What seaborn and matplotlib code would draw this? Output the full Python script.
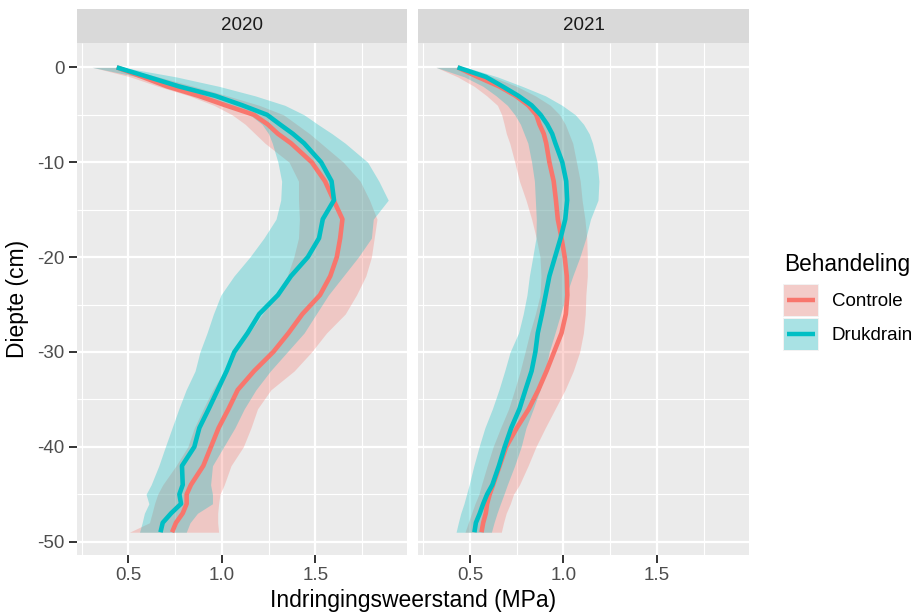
import numpy as np
import pandas as pd
import matplotlib
matplotlib.use("Agg")
import matplotlib.pyplot as plt
from matplotlib.patches import Rectangle
from matplotlib.lines import Line2D
import seaborn as sns

# ---------------- data ----------------
depth = [0, -1, -2, -3, -4, -5, -6, -7, -8, -10, -12, -14, -16, -18, -20, -22, -24,
         -26, -28, -30, -32, -34, -36, -38, -40, -42, -44, -45, -46, -47, -48, -49]

years = ["2020", "2021"]
groups = ["Controle", "Drukdrain"]

# 2020
c20_mean = [0.438, 0.575, 0.707, 0.875, 1.02, 1.172, 1.245, 1.30, 1.37, 1.481, 1.552, 1.598,
            1.645, 1.633, 1.615, 1.58, 1.525, 1.431, 1.357, 1.275, 1.173, 1.085, 1.036, 0.983,
            0.942, 0.901, 0.835, 0.812, 0.812, 0.791, 0.755, 0.734]
c20_lo = [0.31, 0.51, 0.659, 0.826, 0.958, 1.055, 1.125, 1.178, 1.231, 1.36, 1.41, 1.41,
          1.415, 1.41, 1.385, 1.35, 1.285, 1.218, 1.147, 1.076, 1.013, 0.951, 0.901, 0.853,
          0.818, 0.755, 0.684, 0.657, 0.64, 0.627, 0.613, 0.506]
c20_hi = [0.46, 0.66, 0.85, 1.03, 1.20, 1.33, 1.40, 1.47, 1.53, 1.65, 1.74, 1.79,
          1.83, 1.815, 1.80, 1.77, 1.72, 1.66, 1.56, 1.48, 1.387, 1.262, 1.191, 1.156,
          1.115, 1.049, 1.013, 0.99, 0.983, 0.978, 0.978, 0.983]
d20_mean = [0.438, 0.605, 0.77, 0.965, 1.11, 1.242, 1.31, 1.38, 1.44, 1.531, 1.587, 1.60,
            1.54, 1.52, 1.46, 1.37, 1.30, 1.20, 1.138, 1.067, 1.026, 0.978, 0.93, 0.88,
            0.853, 0.787, 0.791, 0.773, 0.782, 0.729, 0.684, 0.672]
d20_lo = [0.306, 0.55, 0.72, 0.90, 1.04, 1.15, 1.215, 1.25, 1.27, 1.30, 1.32, 1.315,
          1.29, 1.225, 1.15, 1.065, 0.995, 0.955, 0.921, 0.883, 0.857, 0.809, 0.77, 0.734,
          0.698, 0.663, 0.622, 0.595, 0.61, 0.586, 0.574, 0.56]
d20_hi = [0.47, 0.755, 0.985, 1.178, 1.337, 1.44, 1.513, 1.59, 1.66, 1.78, 1.84, 1.89,
          1.81, 1.80, 1.73, 1.65, 1.57, 1.505, 1.44, 1.35, 1.26, 1.182, 1.12, 1.07,
          1.01, 0.95, 0.94, 0.95, 0.95, 0.87, 0.83, 0.81]

# 2021
c21_mean = [0.434, 0.541, 0.656, 0.745, 0.812, 0.855, 0.872, 0.895, 0.908, 0.925, 0.948, 0.96,
            0.97, 0.99, 1.007, 1.018, 1.021, 1.013, 0.99, 0.95, 0.91, 0.866, 0.815, 0.751,
            0.694, 0.659, 0.624, 0.606, 0.592, 0.585, 0.571, 0.562]
c21_lo = [0.319, 0.434, 0.523, 0.59, 0.647, 0.67, 0.683, 0.695, 0.713, 0.74, 0.765, 0.80,
          0.83, 0.855, 0.875, 0.88, 0.875, 0.85, 0.82, 0.795, 0.769, 0.739, 0.707, 0.664,
          0.624, 0.592, 0.562, 0.548, 0.527, 0.509, 0.491, 0.474]
c21_hi = [0.46, 0.62, 0.75, 0.85, 0.93, 0.98, 1.01, 1.03, 1.05, 1.07, 1.09, 1.10,
          1.115, 1.125, 1.128, 1.128, 1.12, 1.117, 1.107, 1.087, 1.053, 1.009, 0.956, 0.903,
          0.853, 0.811, 0.765, 0.733, 0.716, 0.694, 0.68, 0.668]
d21_mean = [0.434, 0.585, 0.674, 0.759, 0.83, 0.878, 0.913, 0.94, 0.957, 0.994, 1.015, 1.02,
            1.01, 0.985, 0.955, 0.925, 0.905, 0.885, 0.863, 0.85, 0.83, 0.797, 0.765, 0.721,
            0.686, 0.655, 0.62, 0.592, 0.571, 0.553, 0.532, 0.524]
d21_lo = [0.319, 0.47, 0.57, 0.64, 0.70, 0.74, 0.77, 0.79, 0.81, 0.83, 0.845, 0.85,
          0.855, 0.853, 0.836, 0.818, 0.805, 0.785, 0.76, 0.715, 0.686, 0.655, 0.62, 0.58,
          0.549, 0.521, 0.496, 0.482, 0.468, 0.451, 0.438, 0.426]
d21_hi = [0.48, 0.647, 0.78, 0.904, 0.993, 1.064, 1.108, 1.138, 1.156, 1.18, 1.19, 1.185,
          1.145, 1.12, 1.088, 1.05, 1.015, 0.985, 0.955, 0.924, 0.903, 0.875, 0.839, 0.80,
          0.774, 0.739, 0.70, 0.682, 0.663, 0.645, 0.629, 0.615]

x_ticks = [0.5, 1.0, 1.5]
x_tick_labels = ["0.5", "1.0", "1.5"]
y_ticks = [0, -10, -20, -30, -40, -50]
y_tick_labels = ["0", "-10", "-20", "-30", "-40", "-50"]

series = {
    ("2020", "Controle"): (c20_mean, c20_lo, c20_hi),
    ("2020", "Drukdrain"): (d20_mean, d20_lo, d20_hi),
    ("2021", "Controle"): (c21_mean, c21_lo, c21_hi),
    ("2021", "Drukdrain"): (d21_mean, d21_lo, d21_hi),
}
rows = []
for (yr, grp), (m, lo, hi) in series.items():
    for d, a, b, c in zip(depth, m, lo, hi):
        rows.append({"Jaar": yr, "Behandeling": grp, "Diepte": d,
                     "Indringingsweerstand": a, "lo": b, "hi": c})
df = pd.DataFrame(rows)

palette = {"Controle": "#F8766D", "Drukdrain": "#00BFC4"}
ALPHA = 0.3

# ---------------- figure ----------------
sns.set_theme(style="darkgrid")
plt.rcParams["font.family"] = ["Liberation Sans", "DejaVu Sans"]
plt.rcParams["lines.solid_capstyle"] = "butt"

W, H = 918, 614
fig = plt.figure(figsize=(W / 100, H / 100), dpi=100)
fig.patch.set_facecolor("white")


def fx(px):
    return px / W


def fy(py):
    return 1 - py / H


panel_top, panel_bot = 42.7, 555.0
panels = [(76.7, 407.3), (418.3, 748.9)]
strip_top = 9.3

XLIM = (0.224, 1.992)
YLIM = (-51.4, 2.6)
TICK_FS = 13.5

for i, yr in enumerate(years):
    x0, x1 = panels[i]
    ax = fig.add_axes([fx(x0), fy(panel_bot), fx(x1) - fx(x0), fy(panel_top) - fy(panel_bot)])
    ax.set_facecolor("#EBEBEB")
    sub = df[df["Jaar"] == yr]
    for grp in groups:
        g = sub[sub["Behandeling"] == grp]
        ax.fill_betweenx(g["Diepte"], g["lo"], g["hi"], color=palette[grp],
                         alpha=ALPHA, linewidth=0, zorder=2)
    sns.lineplot(data=sub, x="Indringingsweerstand", y="Diepte", hue="Behandeling",
                 hue_order=groups, palette=palette, orient="y", estimator=None,
                 sort=True, linewidth=3.3, legend=False, ax=ax, zorder=3)
    ax.set_xlim(*XLIM)
    ax.set_ylim(*YLIM)
    ax.set_xticks(x_ticks)
    ax.set_xticklabels(x_tick_labels)
    ax.set_xticks([0.25, 0.75, 1.25, 1.75], minor=True)
    ax.set_yticks(y_ticks)
    ax.set_yticks([-5, -15, -25, -35, -45], minor=True)
    if i == 0:
        ax.set_yticklabels(y_tick_labels)
    else:
        ax.set_yticklabels([])
    ax.grid(which="major", color="white", linewidth=1.6)
    ax.grid(which="minor", color="white", linewidth=0.8)
    ax.set_axisbelow(True)
    for s in ax.spines.values():
        s.set_visible(False)
    ax.tick_params(axis="both", which="major", length=5.5, width=1.4, color="#333333",
                   labelsize=TICK_FS, labelcolor="#4D4D4D", pad=3.4,
                   bottom=True, left=True)
    if i == 1:
        ax.tick_params(axis="y", length=0)
    ax.tick_params(axis="both", which="minor", length=0)
    ax.set_xlabel("")
    ax.set_ylabel("")

    # facet strip
    sax = fig.add_axes([fx(x0), fy(panel_top), fx(x1) - fx(x0), fy(strip_top) - fy(panel_top)])
    sax.set_facecolor("#D9D9D9")
    sax.set_xticks([])
    sax.set_yticks([])
    sax.grid(False)
    for s in sax.spines.values():
        s.set_visible(False)
    sax.text(0.5, 0.5, yr, ha="center", va="center", fontsize=TICK_FS, color="#1A1A1A",
             transform=sax.transAxes)

# axis titles
fig.text(fx((panels[0][0] + panels[1][1]) / 2), fy(601), "Indringingsweerstand (MPa)",
         ha="center", va="center", fontsize=16.5, color="black")
fig.text(fx(18), fy((panel_top + panel_bot) / 2), "Diepte (cm)", rotation=90,
         ha="center", va="center", fontsize=16.5, color="black")

# legend
lax = fig.add_axes([0, 0, 1, 1], facecolor="none")
lax.set_xlim(0, W)
lax.set_ylim(H, 0)
lax.axis("off")
lax.text(784, 265, "Behandeling", ha="left", va="center", fontsize=16.3, color="black")
for k, grp in enumerate(groups):
    cy = 300 + k * 34.2
    lax.add_patch(Rectangle((783.3, cy - 16.5), 36, 33, facecolor="#F2F2F2",
                            edgecolor="none", zorder=1))
    lax.add_patch(Rectangle((784.3, cy - 15.5), 34, 31, facecolor=palette[grp],
                            alpha=ALPHA, edgecolor="none", zorder=2))
    lax.add_line(Line2D([786.7, 815.3], [cy, cy], color=palette[grp], linewidth=3.2,
                        solid_capstyle="butt", zorder=3))
    lax.text(831.7, cy + 1, grp, ha="left", va="center", fontsize=TICK_FS, color="black")

fig.savefig("out.png", dpi=100, facecolor="white")
